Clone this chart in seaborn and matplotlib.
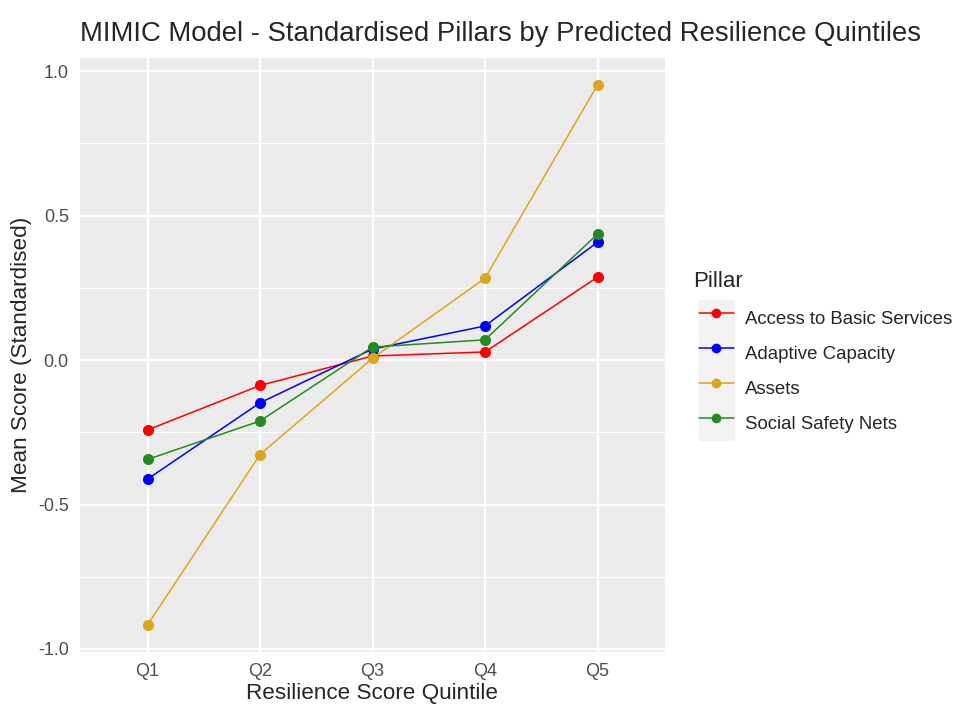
import pandas as pd
import numpy as np
import seaborn as sns
import matplotlib.pyplot as plt
from matplotlib.lines import Line2D
from matplotlib.patches import Rectangle

# data
quintiles = ["Q1", "Q2", "Q3", "Q4", "Q5"]
pillars = ["Access to Basic Services", "Adaptive Capacity", "Assets", "Social Safety Nets"]
access_basic = [-0.242, -0.088, 0.014, 0.028, 0.287]
adaptive_cap = [-0.412, -0.148, 0.038, 0.118, 0.408]
assets = [-0.917, -0.327, 0.006, 0.283, 0.952]
safety_nets = [-0.344, -0.211, 0.045, 0.070, 0.436]
colors = ["#FF0000", "#0000FF", "#DAA520", "#228B22"]

df = pd.DataFrame({
    "Quintile": quintiles * 4,
    "Pillar": np.repeat(pillars, len(quintiles)),
    "Score": access_basic + adaptive_cap + assets + safety_nets,
})

sns.set_style("darkgrid", {"axes.facecolor": "#EBEBEB", "grid.color": "white"})
plt.rcParams["font.family"] = ["Liberation Sans", "DejaVu Sans"]
plt.rcParams["axes.unicode_minus"] = False

fig = plt.figure(figsize=(9.55, 7.04), dpi=100)
ax = fig.add_axes([80 / 955, 1 - 652 / 704, 585 / 955, 594 / 704])

palette = dict(zip(pillars, colors))
sns.lineplot(data=df, x="Quintile", y="Score", hue="Pillar", palette=palette,
             marker="o", markersize=8, markeredgewidth=0, linewidth=1.1,
             ax=ax, legend=False, zorder=3)

ax.set_xlim(-0.6, 4.6)
ax.set_ylim(-1.0105, 1.0455)
ax.set_yticks([-1.0, -0.5, 0.0, 0.5, 1.0])
ax.set_yticklabels(["-1.0", "-0.5", "0.0", "0.5", "1.0"])
ax.set_yticks([-0.75, -0.25, 0.25, 0.75], minor=True)
ax.grid(which="major", color="white", linewidth=1.6)
ax.grid(which="minor", axis="y", color="white", linewidth=0.8)
ax.set_axisbelow(True)
for s in ax.spines.values():
    s.set_visible(False)
ax.tick_params(axis="both", which="major", length=3.6, width=1.1, color="#333333",
               labelcolor="#4D4D4D", labelsize=13, pad=4.5)
ax.tick_params(axis="both", which="minor", length=0)
ax.set_xlabel("")
ax.set_ylabel("")

fig.text(372 / 955, 1 - 699 / 704, "Resilience Score Quintile",
         fontsize=16.2, ha="center", va="baseline")
fig.text(22 / 955, 1 - 355 / 704, "Mean Score (Standardised)",
         fontsize=16.2, ha="center", va="center", rotation=90)
fig.text(80 / 955, 1 - 41 / 704,
         "MIMIC Model - Standardised Pillars by Predicted Resilience Quintiles",
         fontsize=19.8, ha="left", va="baseline")

# legend
fig.text(693 / 955, 1 - 287 / 704, "Pillar", fontsize=16, ha="left", va="baseline")
fig.patches.append(Rectangle((699 / 955, 1 - 440 / 704), 35 / 955, 140 / 704,
                             transform=fig.transFigure, color="#F2F2F2", zorder=0))
handles = [Line2D([], [], color=c, marker="o", markersize=7, markeredgewidth=0,
                  linewidth=1.1) for c in colors]
fig.legend(handles, pillars, loc="upper left",
           bbox_to_anchor=(699 / 955, 1 - 301 / 704), frameon=False,
           fontsize=13.4, handlelength=1.88, handleheight=2.52, labelspacing=0,
           handletextpad=0.59, borderpad=0, borderaxespad=0)

fig.savefig("out.png", dpi=100)
